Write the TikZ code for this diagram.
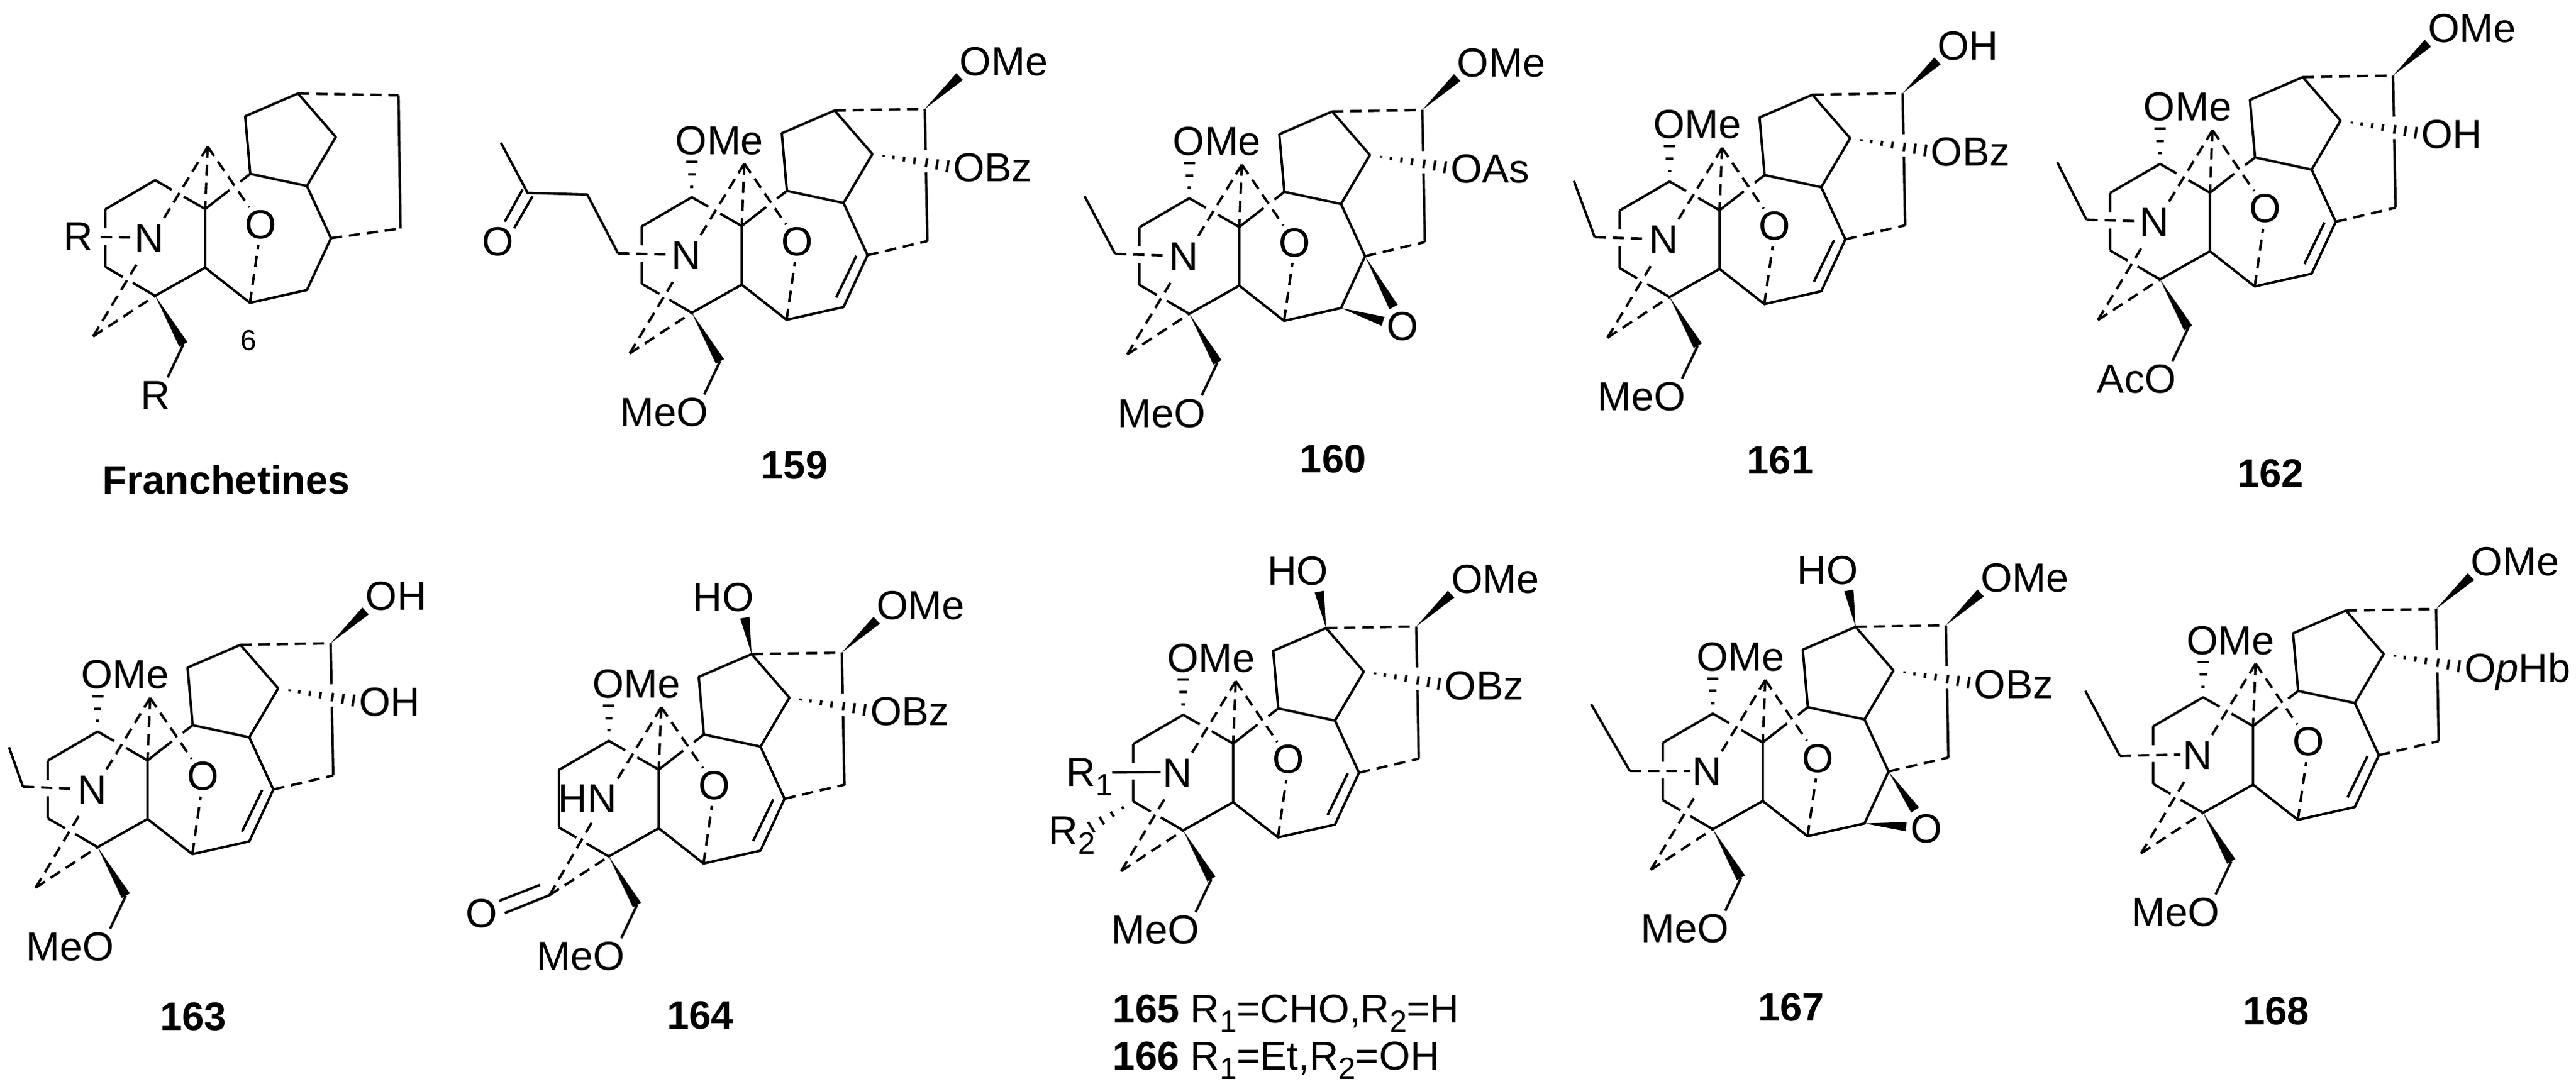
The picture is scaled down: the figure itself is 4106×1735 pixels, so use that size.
\documentclass[tikz,border=0pt]{standalone}
\usepackage{fontspec}
\setmainfont{Liberation Sans}
\usetikzlibrary{calc}
\newcommand{\subn}[1]{\raisebox{-4.3pt}{\fontsize{14}{14}\selectfont #1}}
\tikzset{
  bond/.style={line width=1.1pt, line join=round},
  dashbond/.style={line width=1.1pt, dash pattern=on 5.1pt off 3.1pt},
  atom/.style={inner sep=0pt, font=\fontsize{18.4}{20}\selectfont},
  cpdlabel/.style={inner sep=0pt, anchor=base, font=\fontsize{18}{20}\selectfont\bfseries},
}
% wedge and hashed bonds
\newcommand{\wedgebond}[2]{\fill (#1) -- ($(#2)!0.075cm!90:(#1)$) -- ($(#2)!0.075cm!-90:(#1)$) -- cycle;}
\newcommand{\hashbond}[4]{\foreach \tpos in {#4}{
  \draw[bond] ($(#1)!\tpos!(#2)!{\tpos*#3}!90:(#1)$) -- ($(#1)!\tpos!(#2)!{\tpos*#3}!-90:(#1)$);}}
% atoms of the cage, in pixels from atom a
\newcommand{\corecoords}{
  \coordinate (a) at (0,0);
  \coordinate (b) at (-79.6,46.4);
  \coordinate (c) at (-79.6,138);
  \coordinate (d) at (0,184.2);
  \coordinate (e) at (79.6,139.3);
  \coordinate (f) at (79.6,45.9);
  \coordinate (g) at (151.5,-10.2);
  \coordinate (h) at (241.8,9.2);
  \coordinate (i) at (280.1,92.3);
  \coordinate (j) at (241.8,175);
  \coordinate (k) at (151,195.4);
  \coordinate (l) at (143.4,-102);
  \coordinate (m) at (227.6,-138.3);
  \coordinate (n) at (287.8,-68.9);
  \coordinate (o) at (371.4,-140.8);
  \coordinate (p) at (375.5,69.9);
  \coordinate (apex) at (83.7,-53.6);
  \coordinate (tip) at (-99,249);
  \coordinate (ntop) at (13.3,61.7);
  \coordinate (nbot) at (-26,128);
  \coordinate (nleft) at (-36.2,91.3);
  \coordinate (otop) at (150,43.4);
  \coordinate (obot) at (164.3,103.6);
  \coordinate (ch2) at (44.9,261.7);
  \coordinate (meo) at (19.9,314.3);
}
\newcommand{\corebonds}{
  \draw[bond] (b) -- (a) -- ($(a)!0.33!(f)$) ($(a)!0.57!(f)$) -- (f) -- (e) -- (d) -- ($(d)!0.45!(c)$) ($(d)!0.65!(c)$) -- (c);
  \draw[bond] (f) -- ($(f)!0.54!(g)$) ($(f)!0.78!(g)$) -- (g) -- (l) -- (m) -- (n) -- (h) -- (g);
  \draw[bond] (e) -- (k) -- (j) -- (i) -- (h);
  \draw[dashbond] (apex) -- (f);
  \draw[dashbond] (apex) -- (ntop);
  \draw[dashbond] (apex) -- (otop);
  \draw[dashbond] (tip) -- (nbot);
  \draw[dashbond] (tip) -- (d);
  \draw[dashbond] (k) -- (obot);
  \draw[dashbond] (m) -- (o);
  \draw[dashbond] (i) -- (p);
  \node[atom, anchor=base] (bridgeO) at (167.9,93.4) {O};
}
\newcommand{\bcsplit}{\draw[bond] (b) -- ($(b)!0.33!(c)$) ($(b)!0.62!(c)$) -- (c);}
\newcommand{\opsplit}{\draw[bond] (o) -- ($(o)!0.31!(p)$) ($(o)!0.48!(p)$) -- (p);}
\newcommand{\ringN}{\node[atom, anchor=base] (ringN) at (-9.2,115.3) {N};}
\newcommand{\alkene}{\draw[bond] (262.2,93.4) -- (230.1,159.7);}
\newcommand{\ethyl}[2]{
  \coordinate (etop) at (#1);
  \coordinate (ext) at (#2);
  \draw[bond] (etop) -- (ext);
  \draw[dashbond] (ext) -- (nleft);
}
% the groups nearly all of them carry
\newcommand{\sidegroups}[3]{
  \coordinate (omeend) at (0,-56);
  \hashbond{a}{omeend}{0.09cm}{0.3,0.65,1}
  \node[atom, anchor=base west] (omeL) at (-26.7,-68.4) {OMe};
  \coordinate (topend) at (427,-192.3);
  \wedgebond{o}{topend}
  \node[atom, anchor=base west] (topL) at (426.5,-194) {#1};
  \coordinate (hashend) at (407.7,-49.5);
  \hashbond{n}{hashend}{0.095cm}{0.15,0.28,0.42,0.56,0.72,0.86,1}
  \node[atom, anchor=base west] (sideL) at (416,-24.5) {#2};
  \wedgebond{d}{ch2}
  \draw[bond] (ch2) -- (meo);
  \node[atom, anchor=base east] (lowL) at (26.5,365.3) {#3};
}
\newcommand{\hydroxy}{
  \coordinate (hoend) at (216.8,-196.4);
  \wedgebond{m}{hoend}
  \node[atom, anchor=base east] (hoL) at (232,-206.6) {HO};
}
\begin{document}
\begin{tikzpicture}[x=0.01cm, y=-0.01cm]
  \path[use as bounding box] (0,0) rectangle (4106,1735);

  % Franchetines
  \begin{scope}[shift={(247.4,287.3)}, name prefix=fr-]
    \corecoords
    \coordinate (o) at (387.8,-135.5);
    \coordinate (p) at (391,77);
    \corebonds
    \draw[bond] (o) -- (p);
    \bcsplit
    \ringN
    \coordinate (rleft) at (-86.7,90.5);
    \draw[dashbond] (rleft) -- (nleft);
    \node[atom, anchor=base east] (rN) at (-98,112.2) {R};
    \wedgebond{d}{ch2}
    \draw[bond] (ch2) -- (meo);
    \node[atom, anchor=base east] (rC) at (25,365.3) {R};
    \node[inner sep=0pt, anchor=base, font=\fontsize{13}{15}\selectfont] (six) at (149,270.7) {6};
  \end{scope}
  \node[cpdlabel] (cpdfr) at (360.9,787) {Franchetines};

  % 159
  \begin{scope}[shift={(1102.7,314.4)}, name prefix=m159-]
    \corecoords
    \corebonds
    \opsplit
    \bcsplit
    \ringN
    \alkene
    \coordinate (ext) at (-117.6,89.4);
    \coordinate (cha) at (-166.7,-4.3);
    \coordinate (cket) at (-261.8,-7);
    \coordinate (cme) at (-304.2,-86.7);
    \draw[bond] (cme) -- (cket) -- (cha) -- (ext);
    \draw[dashbond] (ext) -- (nleft);
    \coordinate (k1) at (-269.7,-12.5);
    \coordinate (k2) at (-298.2,39);
    \coordinate (k3) at (-253.9,-1.6);
    \coordinate (k4) at (-283,49.3);
    \draw[bond] (k1) -- (k2);
    \draw[bond] (k3) -- (k4);
    \node[atom, anchor=base] (ketO) at (-309,93.2) {O};
    \sidegroups{OMe}{OBz}{MeO}
  \end{scope}
  \node[cpdlabel] (cpd159) at (1266.4,763) {159};

  % 160
  \begin{scope}[shift={(1895.7,316)}, name prefix=m160-]
    \corecoords
    \corebonds
    \opsplit
    \bcsplit
    \ringN
    \ethyl{-167,-3.3}{-118.3,88.6}
    \coordinate (ep1) at (325.5,173.4);
    \coordinate (ep2) at (308.8,196.2);
    \wedgebond{i}{ep1}
    \wedgebond{j}{ep2}
    \node[atom, anchor=base] (epO) at (339.8,226) {O};
    \sidegroups{OMe}{OAs}{MeO}
  \end{scope}
  \node[cpdlabel] (cpd160) at (2124.7,753.4) {160};

  % 161
  \begin{scope}[shift={(2661.2,289.3)}, name prefix=m161-]
    \corecoords
    \corebonds
    \opsplit
    \bcsplit
    \ringN
    \alkene
    \ethyl{-152.6,-1}{-119.4,88.8}
    \sidegroups{OH}{OBz}{MeO}
  \end{scope}
  \node[cpdlabel] (cpd161) at (2837.4,755) {161};

  % 162
  \begin{scope}[shift={(3442.9,261.2)}, name prefix=m162-]
    \corecoords
    \corebonds
    \opsplit
    \bcsplit
    \ringN
    \alkene
    \ethyl{-163.8,-2.5}{-117.2,89.1}
    \sidegroups{OMe}{OH}{AcO}
  \end{scope}
  \node[cpdlabel] (cpd162) at (3618.8,776.4) {162};

  % 163
  \begin{scope}[shift={(155.6,1166.2)}, name prefix=m163-]
    \corecoords
    \corebonds
    \opsplit
    \bcsplit
    \ringN
    \alkene
    \ethyl{-141.3,25}{-119,87.8}
    \sidegroups{OH}{OH}{MeO}
  \end{scope}
  \node[cpdlabel] (cpd163) at (308.2,1642.8) {163};

  % 164
  \begin{scope}[shift={(970.4,1181)}, name prefix=m164-]
    \corecoords
    \coordinate (tip) at (-94.4,245.9);
    \corebonds
    \opsplit
    \draw[bond] (b) -- (c);
    \alkene
    \node[atom, anchor=base east] (ringN) at (13.5,114.8) {HN};
    \coordinate (f1) at (-165.8,274.5);
    \coordinate (f2) at (-109.7,229.6);
    \coordinate (f3) at (-174.5,255.1);
    \draw[bond] (tip) -- (f1);
    \draw[bond] (f2) -- (f3);
    \node[atom, anchor=base] (formO) at (-202.6,297) {O};
    \hydroxy
    \sidegroups{OMe}{OBz}{MeO}
  \end{scope}
  \node[cpdlabel] (cpd164) at (1116.3,1640.2) {164};

  % 165, 166
  \begin{scope}[shift={(1886,1139.5)}, name prefix=m165-]
    \corecoords
    \corebonds
    \opsplit
    \bcsplit
    \ringN
    \alkene
    \coordinate (rone) at (-113.3,92);
    \draw[bond] (rone) -- (nleft);
    \node[atom, anchor=base west] (rA) at (-187,114) {R\subn{1}};
    \coordinate (rtwo) at (-146.7,178.9);
    \hashbond{c}{rtwo}{0.095cm}{0.25,0.5,0.75,1}
    \node[atom, anchor=base west] (rB) at (-215,207) {R\subn{2}};
    \hydroxy
    \sidegroups{OMe}{OBz}{MeO}
  \end{scope}
  \node[inner sep=0pt, anchor=base west, font=\fontsize{18.2}{20}\selectfont] (cpd165) at (1772.7,1630.5) {\textbf{165} R\subn{1}=CHO,R\subn{2}=H};
  \node[inner sep=0pt, anchor=base west, font=\fontsize{18.2}{20}\selectfont] (cpd166) at (1772.7,1705) {\textbf{166} R\subn{1}=Et,R\subn{2}=OH};

  % 167
  \begin{scope}[shift={(2730.1,1137.6)}, name prefix=m167-]
    \corecoords
    \corebonds
    \opsplit
    \bcsplit
    \ringN
    \ethyl{-194,-15}{-132.3,91.3}
    \coordinate (ep1) at (322.4,153.6);
    \coordinate (ep2) at (308.2,180.1);
    \wedgebond{i}{ep1}
    \wedgebond{j}{ep2}
    \node[atom, anchor=base] (epO) at (340.3,205.6) {O};
    \hydroxy
    \sidegroups{OMe}{OBz}{MeO}
  \end{scope}
  \node[cpdlabel] (cpd167) at (2855,1627.9) {167};

  % 168
  \begin{scope}[shift={(3511.6,1111.5)}, name prefix=m168-]
    \corecoords
    \corebonds
    \opsplit
    \bcsplit
    \ringN
    \alkene
    \ethyl{-187.8,-10.2}{-132.7,93.4}
    \sidegroups{OMe}{O\textit{p}Hb}{MeO}
  \end{scope}
  \node[cpdlabel] (cpd168) at (3628,1633) {168};
\end{tikzpicture}
\end{document}
